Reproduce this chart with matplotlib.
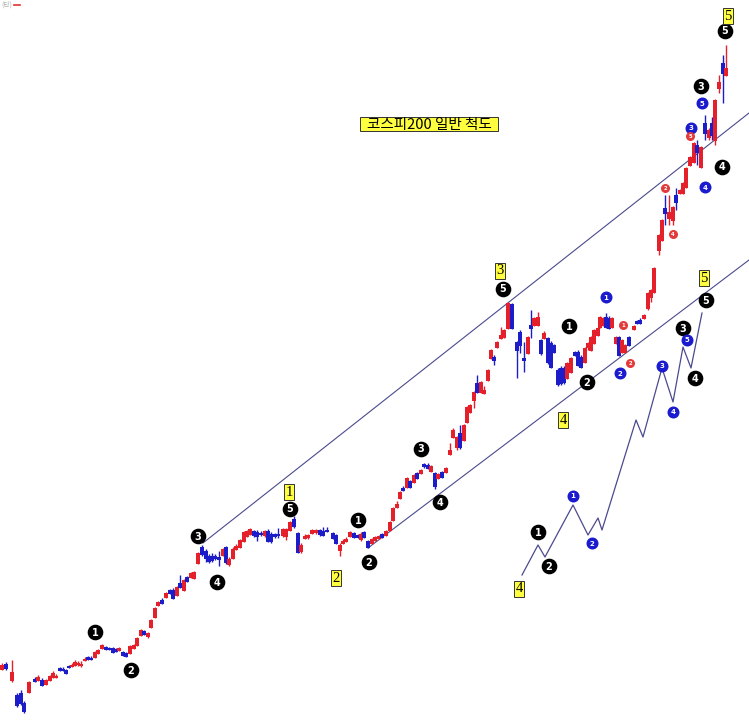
import matplotlib.pyplot as plt
from matplotlib.patches import Rectangle
import numpy as np

# candle positions and OHLC, read in chart level units (0 = top, grows downward)
cx = [2, 6, 12, 17, 21, 24, 29, 35, 38, 42,
      46, 50, 53, 56, 60, 63, 66, 69, 72, 75,
      78, 81, 85, 88, 91, 95, 98, 102, 106, 109,
      113, 116, 119, 123, 126, 130, 134, 137, 141, 144,
      148, 151, 155, 158, 162, 166, 170, 173, 177, 180,
      184, 187, 191, 194, 198, 202, 206, 209, 212, 215,
      219, 223, 226, 229, 233, 236, 240, 244, 247, 250,
      254, 257, 261, 265, 268, 271, 275, 278, 283, 286,
      290, 294, 298, 301, 305, 308, 312, 316, 320, 323,
      327, 333, 336, 340, 343, 346, 350, 354, 358, 361,
      364, 368, 372, 375, 379, 382, 386, 390, 393, 397,
      400, 403, 407, 410, 414, 417, 421, 424, 428, 431,
      435, 438, 442, 446, 450, 453, 457, 460, 464, 467,
      470, 474, 477, 481, 484, 488, 491, 494, 497, 501,
      504, 508, 512, 517, 520, 524, 528, 531, 534, 538,
      541, 544, 548, 551, 554, 558, 561, 564, 567, 571,
      575, 578, 581, 585, 588, 591, 594, 598, 600, 603,
      606, 609, 612, 616, 619, 622, 625, 629, 634, 637,
      640, 644, 648, 651, 654, 659, 662, 665, 669, 673,
      676, 680, 683, 686, 690, 694, 697, 701, 705, 709,
      712, 715, 719, 723, 726]

c_open = [669, 664, 680, 695, 693, 703, 692, 679, 680, 680,
          684, 680, 677, 677, 668, 669, 670, 666, 666, 665,
          664, 665, 660, 657, 658, 657, 653, 648, 647, 648,
          648, 649, 650, 652, 653, 653, 648, 645, 635, 631,
          636, 627, 617, 605, 600, 597, 590, 590, 595, 583,
          590, 577, 577, 578, 563, 547, 551, 556, 556, 556,
          557, 555, 547, 564, 558, 549, 547, 541, 536, 534,
          531, 532, 533, 535, 531, 534, 534, 534, 535, 536,
          530, 519, 533, 551, 538, 537, 533, 532, 530, 531,
          530, 533, 535, 550, 543, 541, 536, 533, 535, 539,
          532, 541, 543, 540, 538, 534, 535, 530, 520, 507,
          498, 488, 487, 481, 482, 473, 473, 464, 465, 471,
          473, 478, 472, 472, 454, 437, 447, 433, 440, 422,
          412, 400, 383, 392, 393, 380, 358, 357, 347, 338,
          337, 328, 304, 342, 332, 358, 353, 325, 325, 325,
          340, 338, 338, 343, 345, 370, 368, 368, 378, 372,
          352, 352, 357, 362, 347, 350, 343, 335, 327, 325,
          317, 318, 327, 343, 337, 352, 352, 337, 329, 321,
          320, 318, 308, 297, 292, 250, 240, 208, 218, 220,
          195, 193, 193, 187, 165, 162, 145, 167, 123, 137,
          123, 140, 88, 63, 75]

c_close = [665, 668, 672, 705, 703, 711, 682, 681, 677, 685,
           680, 676, 673, 676, 670, 670, 673, 667, 665, 662,
           663, 664, 659, 659, 659, 652, 650, 645, 649, 649,
           652, 651, 648, 655, 656, 646, 645, 638, 630, 634,
           633, 620, 608, 602, 603, 593, 593, 598, 587, 587,
           580, 581, 573, 572, 553, 554, 558, 561, 560, 558,
           559, 549, 562, 559, 549, 546, 540, 532, 531, 529,
           535, 536, 534, 531, 541, 541, 536, 535, 529, 529,
           522, 526, 552, 545, 536, 535, 530, 530, 534, 535,
           531, 538, 543, 545, 541, 539, 532, 537, 537, 534,
           537, 547, 539, 537, 536, 537, 531, 522, 508, 504,
           492, 490, 478, 487, 475, 478, 470, 466, 468, 466,
           486, 474, 477, 468, 450, 430, 437, 447, 425, 407,
           405, 392, 392, 382, 390, 370, 350, 360, 342, 335,
           330, 303, 328, 350, 345, 360, 337, 328, 318, 317,
           353, 333, 362, 367, 352, 384, 383, 382, 363, 358,
           355, 365, 367, 348, 343, 337, 330, 328, 317, 318,
           327, 328, 318, 337, 355, 340, 345, 345, 326, 323,
           323, 315, 293, 290, 268, 235, 220, 213, 212, 207,
           202, 190, 183, 168, 157, 143, 152, 147, 133, 130,
           135, 100, 82, 73, 68]

c_high = [663, 662, 660, 693, 690, 701, 681, 677, 675, 678,
          679, 675, 671, 674, 667, 667, 669, 665, 663, 660,
          661, 661, 657, 656, 656, 651, 649, 644, 646, 647,
          647, 648, 647, 651, 652, 645, 644, 637, 629, 630,
          632, 619, 607, 601, 598, 592, 589, 588, 586, 575,
          579, 576, 572, 571, 552, 545, 549, 554, 553, 554,
          551, 548, 546, 557, 547, 544, 539, 531, 530, 528,
          530, 530, 531, 530, 529, 532, 533, 528, 528, 528,
          521, 516, 532, 543, 534, 534, 529, 529, 529, 527,
          527, 532, 534, 543, 539, 537, 531, 532, 534, 532,
          531, 540, 538, 536, 535, 533, 530, 521, 507, 501,
          491, 486, 477, 480, 474, 472, 469, 463, 463, 465,
          472, 473, 471, 467, 443, 428, 436, 425, 424, 406,
          404, 391, 375, 381, 386, 369, 349, 355, 341, 327,
          329, 302, 303, 341, 330, 342, 336, 310, 317, 312,
          339, 331, 337, 341, 344, 368, 366, 366, 362, 357,
          351, 350, 355, 347, 342, 336, 329, 327, 316, 317,
          313, 316, 317, 336, 336, 339, 344, 336, 325, 320,
          318, 314, 292, 289, 267, 234, 219, 195, 195, 206,
          188, 189, 182, 167, 156, 142, 140, 146, 115, 128,
          117, 99, 75, 55, 45]

c_low = [670, 670, 682, 707, 705, 713, 693, 682, 681, 686,
         685, 681, 678, 678, 671, 671, 674, 668, 667, 666,
         666, 667, 661, 660, 660, 658, 654, 649, 650, 650,
         653, 652, 651, 656, 657, 654, 649, 646, 636, 635,
         638, 628, 618, 606, 604, 598, 594, 599, 596, 588,
         591, 582, 578, 579, 564, 556, 562, 563, 562, 560,
         566, 556, 564, 566, 559, 550, 548, 542, 537, 535,
         537, 541, 536, 537, 542, 543, 538, 538, 537, 540,
         531, 528, 553, 553, 539, 539, 534, 534, 536, 536,
         532, 539, 544, 556, 544, 542, 537, 538, 538, 541,
         538, 548, 544, 541, 539, 538, 536, 531, 521, 508,
         499, 491, 488, 488, 483, 479, 474, 468, 469, 472,
         489, 479, 478, 473, 455, 438, 450, 449, 441, 423,
         413, 408, 393, 393, 394, 381, 359, 365, 348, 339,
         338, 329, 329, 378, 353, 372, 354, 338, 326, 326,
         355, 339, 364, 368, 353, 386, 385, 384, 379, 373,
         356, 366, 368, 363, 350, 351, 344, 336, 328, 326,
         328, 329, 328, 344, 356, 353, 353, 346, 330, 324,
         324, 319, 310, 302, 293, 255, 241, 225, 225, 225,
         210, 194, 194, 188, 166, 163, 165, 168, 140, 140,
         140, 145, 93, 103, 76]

# channel lines
upper_x = [203, 749]
upper_y = [543, 113]
lower_x = [368, 749]
lower_y = [548, 260]

# schematic wave
wave_x = [522, 538, 545, 573, 588, 598, 602, 636, 643, 662, 673, 683, 691, 702]
wave_y = [575, 545, 557, 505, 535, 518, 530, 420, 437, 368, 402, 347, 368, 313]

# wave count labels
black_x = [95, 131, 198, 217, 290, 358, 369, 421, 440, 503, 569, 587,
           683, 695, 706, 701, 722, 725, 538, 549]
black_y = [632, 670, 536, 582, 509, 520, 562, 449, 502, 289, 326, 382,
           328, 378, 300, 86, 167, 31, 532, 566]
black_t = ['1', '2', '3', '4', '5', '1', '2', '3', '4', '5', '1', '2',
           '3', '4', '5', '3', '4', '5', '1', '2']

blue_x = [606, 620, 662, 673, 687, 573, 592, 691, 705, 702]
blue_y = [297, 373, 366, 412, 340, 496, 543, 128, 187, 103]
blue_t = ['1', '2', '3', '4', '5', '1', '2', '3', '4', '5']

red_x = [623, 630, 665, 673, 690]
red_y = [325, 363, 188, 234, 136]
red_t = ['1', '2', '2', '4', '5']

box_x = [289, 336, 500, 563, 519, 704, 728]
box_y = [492, 578, 271, 420, 589, 278, 16]
box_t = ['1', '2', '3', '4', '4', '5', '5']

title = '코스피200 일반 척도'

fig = plt.figure(figsize=(7.49, 7.27), dpi=100)
ax = fig.add_axes([0, 0, 1, 1])
ax.set_xlim(0, 749)
ax.set_ylim(727, 0)
ax.axis('off')

# faint corner remnant
ax.text(1, 5, '(단)', fontsize=5, color='#b0b0b0', va='center',
        family=['Noto Sans CJK KR', 'DejaVu Sans'])
ax.plot([14, 20], [5, 5], color='#e03030', lw=1.2)

line_col = '#4a4a8e'
ax.plot(upper_x, upper_y, color=line_col, lw=0.8)
ax.plot(lower_x, lower_y, color=line_col, lw=0.8)
ax.plot(wave_x, wave_y, color=line_col, lw=0.9)

o = np.array(c_open)
c = np.array(c_close)
up = c < o
cols = np.where(up, '#e4202a', '#1c1cc8')
ax.vlines(cx, c_high, c_low, colors=cols, lw=1, zorder=3)
ax.bar(cx, np.abs(c - o) + 0.5, bottom=np.minimum(o, c), width=3.2,
       color=cols, zorder=4)

for x, y, t in zip(black_x, black_y, black_t):
    ax.scatter(x, y, s=105, color='black', zorder=6)
    ax.text(x, y + 0.5, t, color='white', fontsize=7, fontweight='bold',
            ha='center', va='center', zorder=7)

for x, y, t in zip(blue_x, blue_y, blue_t):
    ax.scatter(x, y, s=58, color='#1a1acf', zorder=6)
    ax.text(x, y + 0.5, t, color='white', fontsize=5, fontweight='bold',
            ha='center', va='center', zorder=7)

for x, y, t in zip(red_x, red_y, red_t):
    ax.scatter(x, y, s=30, color='#e23a3a', zorder=6)
    ax.text(x, y + 0.3, t, color='white', fontsize=3.8, fontweight='bold',
            ha='center', va='center', zorder=7)

for x, y, t in zip(box_x, box_y, box_t):
    ax.text(x, y, t, color='black', fontsize=10.5, family='Liberation Serif',
            ha='center', va='center', zorder=7,
            bbox=dict(boxstyle='square,pad=0.1', fc='#ffff40', ec='#333333', lw=0.7))

ax.add_patch(Rectangle((360, 117), 138, 14, fc='#ffff40', ec='#333333', lw=0.7, zorder=6))
ax.text(429, 124.5, title, fontsize=10.5, family=['Noto Sans CJK KR', 'DejaVu Sans'],
        ha='center', va='center', zorder=7)

fig.savefig('out.png', dpi=100)
